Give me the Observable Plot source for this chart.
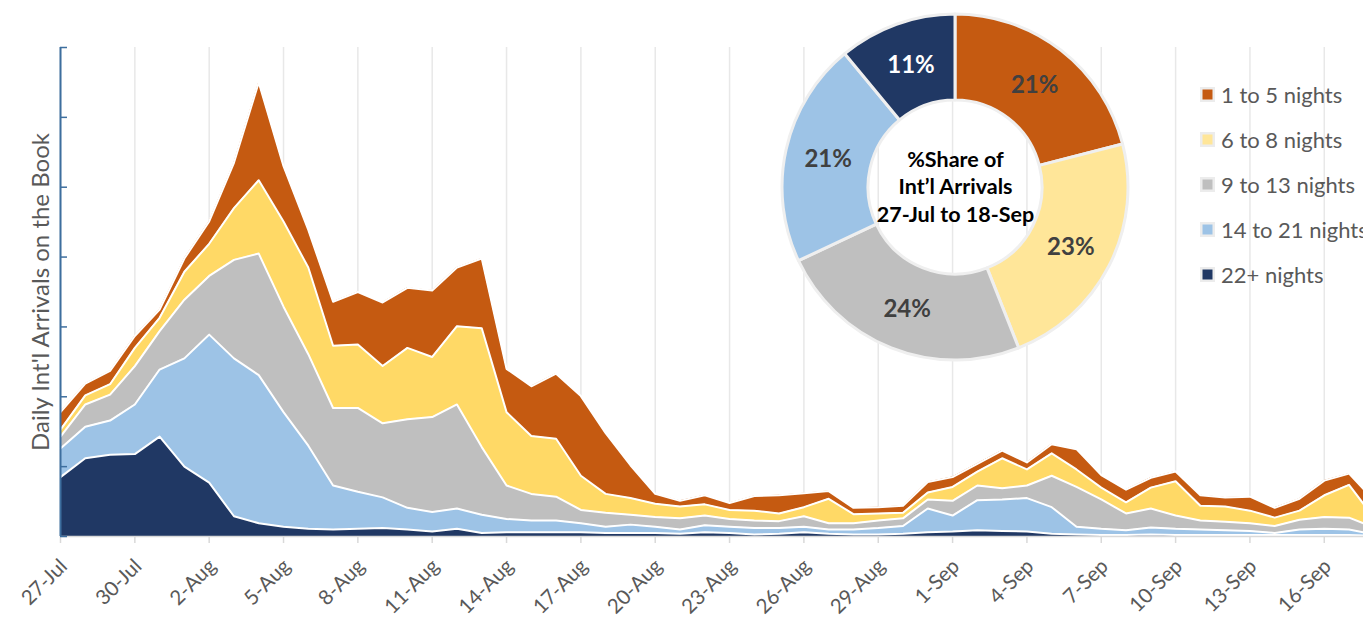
<!DOCTYPE html>
<html>
<head>
<meta charset="utf-8">
<script src="https://cdn.jsdelivr.net/npm/d3@7"></script>
<script src="https://cdn.jsdelivr.net/npm/@observablehq/plot@0.6"></script>
<style>
  html, body { margin: 0; padding: 0; background: #fff; overflow: hidden; }
  #wrap { position: relative; width: 1363px; height: 624px; overflow: hidden; font-family: Lato, sans-serif; }
  #wrap > svg { position: absolute; left: 0; top: 0; }
  #legend { position: absolute; left: 1200px; top: 72px; }
  #legend .lg-swatches { font-family: Lato, sans-serif !important; font-size: 22px !important; color: #595959 !important; margin: 0 !important; min-height: 0 !important; }
  #legend .lg-swatch { height: 45px !important; padding: 0 !important; margin: 0 !important; display: flex !important; align-items: center !important; white-space: nowrap; }
  #legend .lg-swatch svg { width: 10px !important; height: 10px !important; padding: 2.5px; background: #ececec; margin-right: 6px !important; box-sizing: content-box; }
</style>
</head>
<body>
<div id="wrap"><div id="legend"></div></div>
<script>
// ---------------- data ----------------
const startDate = "2022-07-27";
const seriesNames = ["22+ nights", "14 to 21 nights", "9 to 13 nights", "6 to 8 nights", "1 to 5 nights"];

const nights22plus = [85,112,117,118,143,100,77,29,19,14,11,10,11,12,10,7,11,5,6,6,6,6,5,5,5,4,6,5,3,4,6,4,3,3,4,6,7,9,8,7,4,3,2,2,3,2,2,2,2,2,2,2,2,1];
const nights14to21 = [41,45,49,71,96,155,212,226,212,164,119,63,53,44,31,28,29,26,19,17,17,13,9,12,9,6,10,9,9,8,8,6,7,9,11,34,23,43,45,48,38,11,9,7,10,9,8,7,6,3,8,9,8,2];
const nights9to13  = [17,32,37,55,55,84,84,141,174,151,131,111,120,106,127,136,149,97,48,38,34,19,20,14,14,16,14,11,11,10,15,9,9,11,11,13,21,21,16,18,45,57,42,24,27,19,13,12,11,10,14,17,17,10];
const nights6to8   = [10,13,15,26,19,40,46,74,105,122,124,89,91,82,102,86,112,170,105,83,83,49,27,24,19,17,16,13,14,11,13,35,13,10,8,10,20,20,43,23,32,25,17,16,30,49,21,22,18,12,13,31,47,14];
const nights1to5   = [25,17,19,17,12,19,32,65,140,79,54,63,75,91,86,95,84,100,62,71,93,114,87,47,14,8,13,10,21,26,20,11,9,9,10,15,14,11,11,10,13,29,18,18,14,14,15,13,20,14,17,21,16,25];

const tickLabels = ["27-Jul","30-Jul","2-Aug","5-Aug","8-Aug","11-Aug","14-Aug","17-Aug","20-Aug","23-Aug","26-Aug","29-Aug","1-Sep","4-Sep","7-Sep","10-Sep","13-Sep","16-Sep"];
const yTicks = [0,100,200,300,400,500,600,700];

const pieCategories = ["1 to 5 nights", "6 to 8 nights", "9 to 13 nights", "14 to 21 nights", "22+ nights"];
const pieShares = [21, 23, 24, 21, 11];
const pieCenterLines = ["%Share of", "Int\u2019l Arrivals", "27-Jul to 18-Sep"];
const yTitle = "Daily Int'l Arrivals on the Book";

// ---------------- styles ----------------
const areaColors = ["#203864", "#9DC3E6", "#BFBFBF", "#FFD966", "#C55A11"];
const pieColors  = ["#C55A11", "#FFE699", "#BFBFBF", "#9DC3E6", "#203864"];

// ---------------- build table ----------------
const seriesValues = [nights22plus, nights14to21, nights9to13, nights6to8, nights1to5];
const t0 = d3.utcParse("%Y-%m-%d")(startDate);
const dates = nights22plus.map((_, i) => d3.utcDay.offset(t0, i));
const rows = [];
seriesNames.forEach((name, s) => {
  seriesValues[s].forEach((v, i) => rows.push({date: dates[i], series: name, value: v}));
});
const tickDates = tickLabels.map((_, k) => dates[k * 3]);
const labelOf = new Map(tickDates.map((d, k) => [+d, tickLabels[k]]));

const dayPx = 24.78;
const x0px = 60;

const pieScale = Plot.scale({color: {type: "ordinal", domain: pieCategories, range: pieColors}});
const pieData = pieCategories.map((c, i) => ({name: c, share: pieShares[i]}));

const donutCx = 955, donutCy = 187, rIn = 87, rOut = 173;
function donut() {
  const g = d3.create("svg:g").attr("transform", `translate(${donutCx},${donutCy})`);
  const arcs = d3.pie().sort(null).value(d => d.share)(pieData);
  const arc = d3.arc().innerRadius(rIn).outerRadius(rOut);
  g.selectAll("path").data(arcs).join("path")
    .attr("d", arc)
    .attr("fill", d => pieScale.apply(d.data.name))
    .attr("stroke", "#efefef").attr("stroke-width", 3).attr("stroke-linejoin", "round");
  const mid = (rIn + rOut) / 2;
  const labelArc = d3.arc().innerRadius(mid).outerRadius(mid);
  g.selectAll("text").data(arcs).join("text")
    .attr("transform", d => `translate(${labelArc.centroid(d)})`)
    .attr("text-anchor", "middle").attr("dy", "0.36em")
    .attr("font-family", "Lato").attr("font-weight", "bold").attr("font-size", 24)
    .attr("fill", d => d.data.name === "22+ nights" ? "#ffffff" : "#404040")
    .text(d => d.data.share + "%");
  return g.node();
}

const chart = Plot.plot({
  width: 1363,
  height: 624,
  marginTop: 47,
  marginBottom: 88,
  marginLeft: 60,
  marginRight: 0,
  style: {fontFamily: "Lato", background: "white", overflow: "hidden"},
  x: {type: "utc", domain: [dates[0], dates[dates.length - 1]], range: [x0px, x0px + dayPx * (dates.length - 1)], axis: null},
  y: {domain: [0, 700], axis: null},
  color: {domain: seriesNames, range: areaColors},
  marks: [
    Plot.ruleX(tickDates, {stroke: "#e8e8e8", strokeWidth: 1.5}),
    Plot.areaY(rows, Plot.stackY({x: "date", y: "value", z: "series", fill: "series", order: seriesNames})),
    Plot.lineY(rows, Plot.stackY2({x: "date", y: "value", z: "series", order: seriesNames, stroke: "white", strokeWidth: 2})),
    Plot.ruleY([0], {stroke: "#d9d9d9", strokeWidth: 1.5}),
    Plot.axisX({ticks: tickDates, tickSize: 7, stroke: "#d9d9d9", strokeWidth: 1.5, tickFormat: () => "", label: null}),
    Plot.text(tickDates, {x: d => d, frameAnchor: "bottom", text: d => labelOf.get(+d), rotate: -45, textAnchor: "end", lineAnchor: "bottom", dx: 8, dy: 31, fontSize: 20.5, fill: "#595959"}),
    Plot.axisY({ticks: yTicks, tickSize: 7, dx: 7, stroke: "#3D6E9E", strokeWidth: 1.5, tickFormat: () => "", label: null}),
    Plot.ruleX([dates[0]], {stroke: "#3D6E9E", strokeWidth: 2}),
    Plot.text([yTitle], {frameAnchor: "left", rotate: -90, dx: -19, textAnchor: "middle", lineAnchor: "middle", fontSize: 24, fill: "#595959", text: d => d}),
    donut,
    Plot.text([pieCenterLines.join("\n")], {frameAnchor: "top-left", dx: donutCx - 60, dy: donutCy - 47 - 2, text: d => d, textAnchor: "middle", lineAnchor: "middle", lineHeight: 1.3, fontSize: 21.5, fontWeight: "bold", fill: "#000000"})
  ]
});
document.getElementById("wrap").insertBefore(chart, document.getElementById("legend"));

const legend = Plot.legend({
  color: {type: "ordinal", domain: pieCategories, range: pieColors},
  legend: "swatches",
  columns: 1,
  swatchSize: 15,
  className: "lg"
});
document.getElementById("legend").appendChild(legend);
</script>
</body>
</html>
